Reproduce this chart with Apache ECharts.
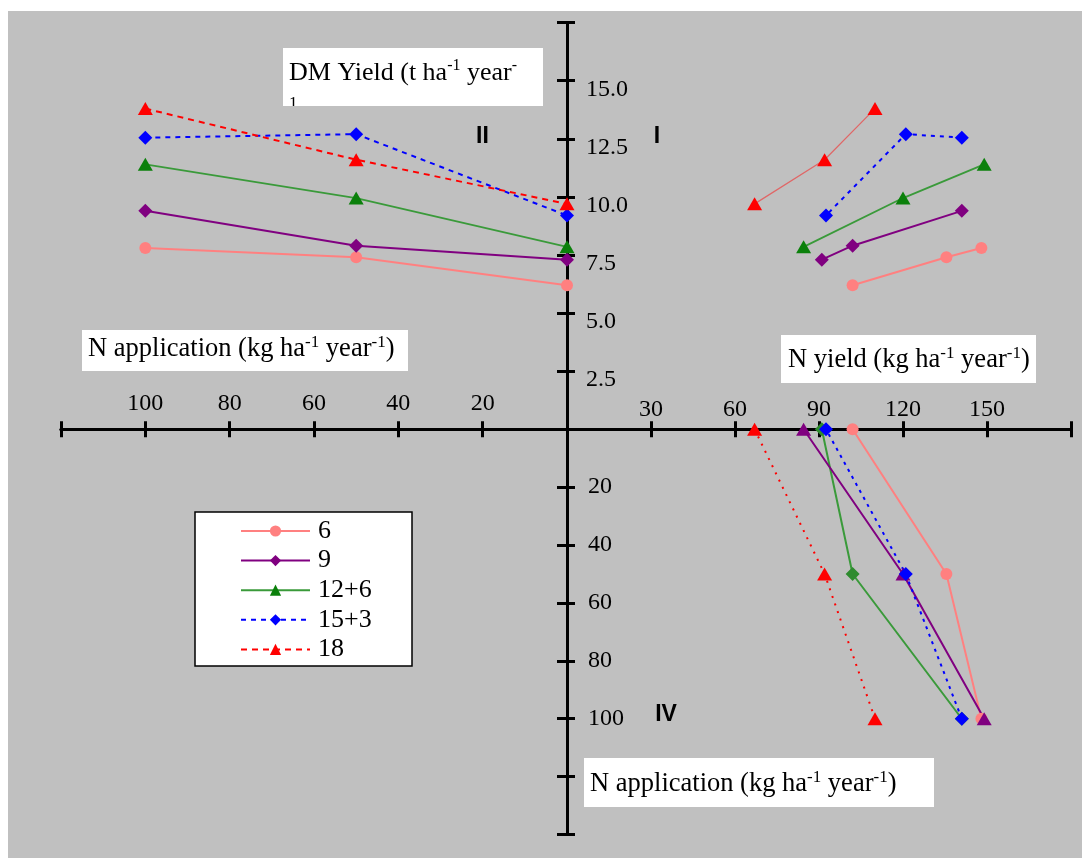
<!DOCTYPE html>
<html><head><meta charset="utf-8">
<script src="https://cdn.jsdelivr.net/npm/echarts@6/dist/echarts.min.js"></script>
<style>html,body{margin:0;padding:0;background:#fff;}#c{width:1082px;height:858px;}</style>
</head><body><div id="c"></div>
<script>
// ---- data ----
const seriesNames = ['6', '9', '12+6', '15+3', '18'];
const nApplication = [100, 50, 0];           // kg N ha-1 year-1
const dm6    = [7.8, 7.4, 6.2];              // DM yield t ha-1 year-1
const dm9    = [9.4, 7.9, 7.3];
const dm12p6 = [11.4, 9.95, 7.85];
const dm15p3 = [12.55, 12.7, 9.2];
const dm18   = [13.8, 11.6, 9.7];
const ny6    = [148, 135.5, 102];            // N yield kg ha-1 year-1
const ny9    = [141, 102, 91];
const ny12p6 = [149, 120, 84.5];
const ny15p3 = [141, 121, 92.5];
const ny18   = [110, 92, 67];
const dmTickLabels = [2.5, 5, 7.5, 10, 12.5, 15];
const nYieldTickLabels = [30, 60, 90, 120, 150];
const nAppTickLabels = [20, 40, 60, 80, 100];

const dmBy = {'6': dm6, '9': dm9, '12+6': dm12p6, '15+3': dm15p3, '18': dm18};
const nyBy = {'6': ny6, '9': ny9, '12+6': ny12p6, '15+3': ny15p3, '18': ny18};

// ---- styles ----
const SERIF = 'Liberation Serif';
const base = {
  '6':    {marker:'#ff8080', line:'#ff8080', symbol:'circle',   size:[12,12], type:'solid', width:2},
  '9':    {marker:'#800080', line:'#800080', symbol:'diamond',  size:[14,14], type:'solid', width:2},
  '12+6': {marker:'#0b800b', line:'#3a9a3a', symbol:'triangle', size:[15,13], type:'solid', width:1.8},
  '15+3': {marker:'#0000ff', line:'#0000ff', symbol:'diamond',  size:[14,14], type:[5,5], width:2},
  '18':   {marker:'#ff0000', line:'#ff0000', symbol:'triangle', size:[15,13], type:[6,5], width:2}
};
const overI = {
  '18':   {line:'#e06666', type:'solid', width:1.2},
  '15+3': {type:[4,5]}
};
const overIV = {
  '9':    {marker:'#2e8b2e', line:'#3a9a3a'},
  '12+6': {marker:'#800080', line:'#800080', width:2},
  '15+3': {type:[3,5]},
  '18':   {type:[2,6]}
};

function mk(name, xi, yi, data, over) {
  const st = Object.assign({}, base[name], over || {});
  return {
    type:'line', name, xAxisIndex:xi, yAxisIndex:yi, data,
    symbol:st.symbol, symbolSize:st.size, showSymbol:true, clip:false,
    itemStyle:{color:st.marker},
    lineStyle:{color:st.line, width:st.width, type:st.type},
    emphasis:{disabled:true}, animation:false
  };
}
const series = [];
seriesNames.forEach(n => series.push(mk(n, 0, 0, nApplication.map((a,i)=>[a, dmBy[n][i]]))));
seriesNames.forEach(n => series.push(mk(n, 1, 1, nyBy[n].map((v,i)=>[v, dmBy[n][i]]), overI[n])));
seriesNames.forEach(n => series.push(mk(n, 3, 3, nyBy[n].map((v,i)=>[v, nApplication[i]]), overIV[n])));

const axLine = {show:true, onZero:false, lineStyle:{color:'#000', width:3}};
const tick = len => ({show:true, inside:true, length:len, lineStyle:{color:'#000', width:3}});
const lbl = (list, fmt, margin, extra) => Object.assign({
  show:true, inside:true, margin, color:'#000', fontFamily:SERIF, fontSize:24,
  formatter: v => list.some(t => Math.abs(t - v) < 1e-9) ? fmt(v) : ''
}, extra || {});
const noLbl = {show:false};

const gridTop = 22.6, upperH = 406.7, midY = 429.3, lowerH = 405.2;
const leftX = 61, midX = 567, rightW = 504;

const option = {
  backgroundColor:'#ffffff',
  animation:false,
  grid:[
    {left:leftX, top:gridTop, width:midX-leftX, height:upperH},
    {left:midX,  top:gridTop, width:rightW,     height:upperH},
    {left:leftX, top:midY,    width:midX-leftX, height:lowerH},
    {left:midX,  top:midY,    width:rightW,     height:lowerH}
  ],
  xAxis:[
    {gridIndex:0, type:'value', min:0, max:120, interval:20, inverse:true, position:'bottom',
     axisLine:axLine, axisTick:tick(8), splitLine:{show:false},
     axisLabel:lbl(nAppTickLabels, v=>String(v), 14)},
    {gridIndex:1, type:'value', min:0, max:180, interval:30, position:'bottom',
     axisLine:axLine, axisTick:tick(8), splitLine:{show:false},
     axisLabel:lbl(nYieldTickLabels, v=>String(v), 8)},
    {gridIndex:2, type:'value', min:0, max:120, interval:20, inverse:true, position:'top',
     axisLine:axLine, axisTick:tick(8), splitLine:{show:false}, axisLabel:noLbl},
    {gridIndex:3, type:'value', min:0, max:180, interval:30, position:'top',
     axisLine:axLine, axisTick:tick(8), splitLine:{show:false}, axisLabel:noLbl}
  ],
  yAxis:[
    {gridIndex:0, type:'value', min:0, max:17.5, interval:2.5, position:'right',
     axisLine:axLine, axisTick:tick(10), splitLine:{show:false}, axisLabel:noLbl},
    {gridIndex:1, type:'value', min:0, max:17.5, interval:2.5, position:'left',
     axisLine:axLine, axisTick:tick(8), splitLine:{show:false},
     axisLabel:lbl(dmTickLabels, v=>v.toFixed(1), 19, {verticalAlign:'top', lineHeight:18, align:'left'})},
    {gridIndex:2, type:'value', min:0, max:140, interval:20, inverse:true, position:'right',
     axisLine:axLine, axisTick:tick(10), splitLine:{show:false}, axisLabel:noLbl},
    {gridIndex:3, type:'value', min:0, max:140, interval:20, inverse:true, position:'left',
     axisLine:axLine, axisTick:tick(8), splitLine:{show:false},
     axisLabel:lbl(nAppTickLabels, v=>String(v), 21, {align:'left'})}
  ],
  legend:{
    data:seriesNames, orient:'vertical', left:240, top:518, padding:0,
    itemWidth:69, itemHeight:14, itemGap:3.6, selectedMode:false, z:20,
    textStyle:{fontFamily:SERIF, fontSize:26, lineHeight:24, color:'#000', padding:[0,0,0,3]}
  },
  graphic:{elements:[]},
  series
};

const rich = {
  n:{fontFamily:SERIF, fontSize:26.5, lineHeight:30, fill:'#000'},
  s:{fontFamily:SERIF, fontSize:17, lineHeight:25, verticalAlign:'top', fill:'#000'}
};
const richDM = {
  n:{fontFamily:SERIF, fontSize:26, lineHeight:30, fill:'#000'},
  s:{fontFamily:SERIF, fontSize:16, lineHeight:25, verticalAlign:'top', fill:'#000'}
};
const unitTxt = (pre) => '{n|' + pre + ' (kg ha}{s|-1}{n| year}{s|-1}{n|)}';
const G = option.graphic.elements;
G.push({type:'rect', silent:true, z:-100, shape:{x:8, y:11, width:1074, height:847}, style:{fill:'#c0c0c0'}});
// DM yield box
G.push({type:'rect', silent:true, z:50, shape:{x:283, y:48, width:260, height:58}, style:{fill:'#fff'}});
G.push({type:'text', silent:true, z:51, style:{x:289, y:58, text:'{n|DM Yield (t ha}{s|-1}{n| year}{s|-}', rich:richDM, align:'left', verticalAlign:'top'}});
G.push({type:'text', silent:true, z:51, style:{x:289, y:95, text:'1', fontFamily:SERIF, fontSize:17, fill:'#000', align:'left', verticalAlign:'top'}});
G.push({type:'rect', silent:true, z:52, shape:{x:283, y:106, width:30, height:12}, style:{fill:'#c0c0c0'}});
// N application (upper-left)
G.push({type:'rect', silent:true, z:50, shape:{x:82, y:330, width:326, height:41}, style:{fill:'#fff'}});
G.push({type:'text', silent:true, z:51, style:{x:88, y:334.5, text:unitTxt('N application'), rich, align:'left', verticalAlign:'top'}});
// N yield
G.push({type:'rect', silent:true, z:50, shape:{x:781, y:335, width:255, height:48}, style:{fill:'#fff'}});
G.push({type:'text', silent:true, z:51, style:{x:788, y:345, text:unitTxt('N yield'), rich, align:'left', verticalAlign:'top'}});
// N application (bottom)
G.push({type:'rect', silent:true, z:50, shape:{x:584, y:758, width:350, height:49}, style:{fill:'#fff'}});
G.push({type:'text', silent:true, z:51, style:{x:590, y:769, text:unitTxt('N application'), rich, align:'left', verticalAlign:'top'}});
// legend box
G.push({type:'rect', silent:true, z:5, shape:{x:195, y:512, width:217, height:154}, style:{fill:'#fff', stroke:'#000', lineWidth:1.5}});
// quadrant labels
const qFont = {fontFamily:'Liberation Sans', fontWeight:'bold', fontSize:23, fill:'#000', verticalAlign:'middle'};
G.push({type:'text', silent:true, z:51, style:Object.assign({x:482.5, y:136.5, text:'II', align:'center'}, qFont)});
G.push({type:'text', silent:true, z:51, style:Object.assign({x:657, y:136.5, text:'I', align:'center'}, qFont)});
G.push({type:'text', silent:true, z:51, style:Object.assign({x:666, y:715, text:'IV', align:'center'}, qFont)});

const chart = echarts.init(document.getElementById('c'), null, {renderer:'canvas'});
chart.setOption(option);
</script></body></html>
